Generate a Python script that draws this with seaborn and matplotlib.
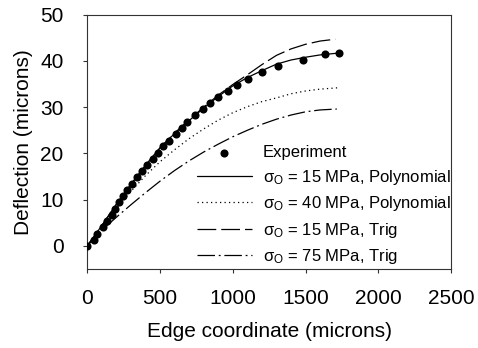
import matplotlib
matplotlib.use("Agg")
import matplotlib.pyplot as plt
import seaborn as sns
import pandas as pd

# Experimental data (edge coordinate in microns, deflection in microns)
exp_x = [0, 46, 69, 106, 138, 168, 190, 220, 248, 271, 305, 344, 376, 408, 450,
         484, 523, 564, 608, 649, 688, 743, 794, 844, 897, 966, 1032, 1103, 1199,
         1314, 1486, 1635, 1727]
exp_y = [0, 1.3, 2.5, 4.0, 5.3, 6.7, 8.0, 9.4, 10.7, 12.0, 13.4, 14.9, 16.1, 17.5,
         18.8, 20.1, 21.6, 22.7, 24.1, 25.4, 26.7, 28.2, 29.5, 30.8, 32.2, 33.5,
         34.8, 36.2, 37.5, 38.9, 40.2, 41.5, 41.8]

# Model curves
poly15_x = [0, 100, 200, 300, 400, 500, 600, 700, 800, 900, 1000, 1100, 1200,
            1300, 1400, 1500, 1600, 1725]
poly15_y = [0, 4.4, 9.0, 13.3, 17.4, 21.2, 24.3, 27.1, 29.8, 32.3, 34.6, 36.4,
            37.9, 39.3, 40.2, 40.8, 41.3, 41.7]

poly40_x = [0, 100, 200, 300, 400, 500, 600, 700, 800, 900, 1000, 1100, 1200,
            1300, 1400, 1500, 1600, 1725]
poly40_y = [0, 4.1, 8.1, 11.8, 15.2, 18.2, 20.8, 23.2, 25.3, 27.2, 28.8, 30.1,
            31.2, 32.0, 32.9, 33.5, 33.9, 34.2]

trig15_x = [0, 100, 200, 300, 400, 500, 600, 700, 800, 900, 1000, 1100, 1200,
            1300, 1400, 1500, 1600, 1705]
trig15_y = [0, 4.4, 9.0, 13.3, 17.4, 21.2, 24.4, 27.3, 30.0, 32.6, 34.9, 37.0,
            39.2, 41.2, 42.6, 43.6, 44.3, 44.7]

trig75_x = [0, 100, 200, 300, 400, 500, 600, 700, 800, 900, 1000, 1100, 1200,
            1300, 1400, 1500, 1600, 1715]
trig75_y = [0, 3.4, 6.2, 8.9, 11.5, 14.0, 16.3, 18.4, 20.3, 22.0, 23.6, 25.0,
            26.3, 27.4, 28.3, 29.0, 29.4, 29.6]

labels = ["Experiment",
          "σ$_\\mathrm{O}$ = 15 MPa, Polynomial",
          "σ$_\\mathrm{O}$ = 40 MPa, Polynomial",
          "σ$_\\mathrm{O}$ = 15 MPa, Trig",
          "σ$_\\mathrm{O}$ = 75 MPa, Trig"]
x_ticks = [0, 500, 1000, 1500, 2000, 2500]
y_ticks = [0, 10, 20, 30, 40, 50]

sns.set_style("ticks")
plt.rcParams["font.family"] = ["Liberation Sans", "DejaVu Sans"]
plt.rcParams["mathtext.fontset"] = "custom"
plt.rcParams["mathtext.rm"] = "Liberation Sans"
plt.rcParams["mathtext.it"] = "Liberation Sans:italic"
plt.rcParams["mathtext.bf"] = "Liberation Sans:bold"
plt.rcParams["text.color"] = "black"
plt.rcParams["axes.labelcolor"] = "black"

fig = plt.figure(figsize=(4.78, 3.48), dpi=100)
ax = fig.add_axes([87.3 / 478, 1 - 269 / 348, (451 - 87.3) / 478, (269 - 14.7) / 348])

sns.scatterplot(x=exp_x, y=exp_y, ax=ax, color="black", s=34, edgecolor="black",
                linewidth=0, label=labels[0], zorder=3)
sns.lineplot(x=poly15_x, y=poly15_y, ax=ax, color="black", lw=0.9,
             linestyle="-", label=labels[1], sort=False)
sns.lineplot(x=poly40_x, y=poly40_y, ax=ax, color="black", lw=0.9,
             linestyle=(0, (1, 2.6)), label=labels[2], sort=False)
sns.lineplot(x=trig15_x, y=trig15_y, ax=ax, color="black", lw=0.9,
             linestyle=(0, (15, 4)), label=labels[3], sort=False)
sns.lineplot(x=trig75_x, y=trig75_y, ax=ax, color="black", lw=0.9,
             linestyle=(0, (14, 3, 1.5, 3)), label=labels[4], sort=False)

ax.set_xlim(0, 2500)
ax.set_ylim(-5, 50)
ax.set_xticks(x_ticks)
ax.set_yticks(y_ticks)
ax.tick_params(labelsize=15, length=3.2, width=0.8, color="#333333",
               labelcolor="black")
ax.tick_params(axis="x", pad=11)
ax.tick_params(axis="y", pad=14)
for s in ax.spines.values():
    s.set_visible(True)
    s.set_color("#333333")
    s.set_linewidth(0.8)
ax.set_xlabel("Edge coordinate (microns)", fontsize=15, labelpad=10)
ax.set_ylabel("Deflection (microns)", fontsize=15, labelpad=5)

ax.legend(frameon=False, fontsize=12, loc="center left",
          bbox_to_anchor=(0.3016, 0.249), borderpad=0, borderaxespad=0,
          handlelength=3.3, handletextpad=0.66, labelspacing=0.45,
          markerscale=1.0)

fig.savefig("out.png", dpi=100)
